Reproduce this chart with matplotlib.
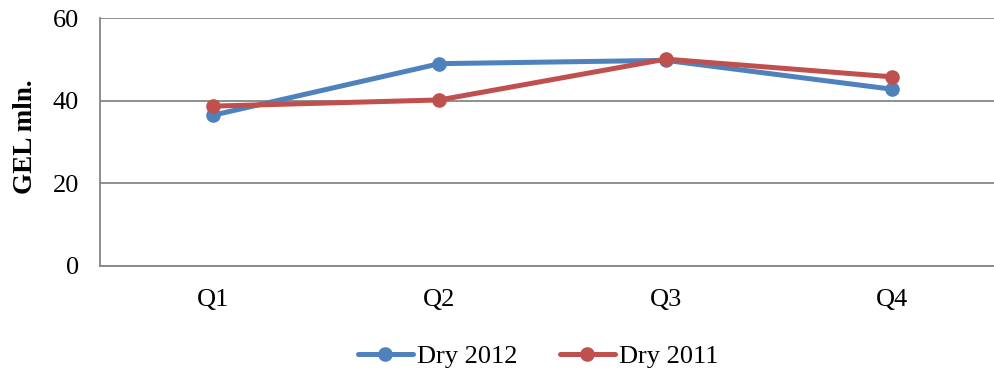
import matplotlib
matplotlib.use("Agg")
import matplotlib.pyplot as plt

quarters = ["Q1", "Q2", "Q3", "Q4"]
dry_2012 = [36.5, 49.0, 49.8, 42.8]
dry_2011 = [38.7, 40.2, 50.1, 45.8]
y_ticks = [0, 20, 40, 60]

plt.rcParams['font.family'] = ['Liberation Serif', 'DejaVu Serif']

fig = plt.figure(figsize=(9.94, 3.73), dpi=100)
ax = fig.add_axes([100/994, 1-265.7/373, 1-100/994, (265.7-18.3)/373])

x = list(range(len(quarters)))
l1, = ax.plot(x, dry_2012, color="#4F81BD", lw=3.6, marker="o", ms=9.5, label="Dry 2012", solid_capstyle="round")
l2, = ax.plot(x, dry_2011, color="#C0504D", lw=3.6, marker="o", ms=9.5, label="Dry 2011", solid_capstyle="round")

ax.set_xlim(-0.5, 3.45)
ax.set_ylim(0, 60)
ax.set_yticks(y_ticks)
ax.set_xticks(x)
ax.set_xticklabels(quarters)
ax.tick_params(axis="both", length=0, labelsize=19)
ax.tick_params(axis="y", pad=15)
ax.tick_params(axis="x", pad=16.5)
ax.grid(axis="y", color="#868686", lw=1.3)
ax.set_axisbelow(True)
for s in ["top", "right"]:
    ax.spines[s].set_visible(False)
for s in ["left", "bottom"]:
    ax.spines[s].set_color("#868686")
    ax.spines[s].set_linewidth(1.3)

ax.set_ylabel("GEL mln.", fontsize=19.5, fontweight="bold")
ax.yaxis.set_label_coords(-0.0695, 0.522)

fig.legend(handles=[l1, l2], loc="center", bbox_to_anchor=(538/994, 1-356/373), ncol=2,
           frameon=False, fontsize=19, handlelength=2.1, handletextpad=0.15, columnspacing=1.6)

fig.savefig("out.png", dpi=100)
